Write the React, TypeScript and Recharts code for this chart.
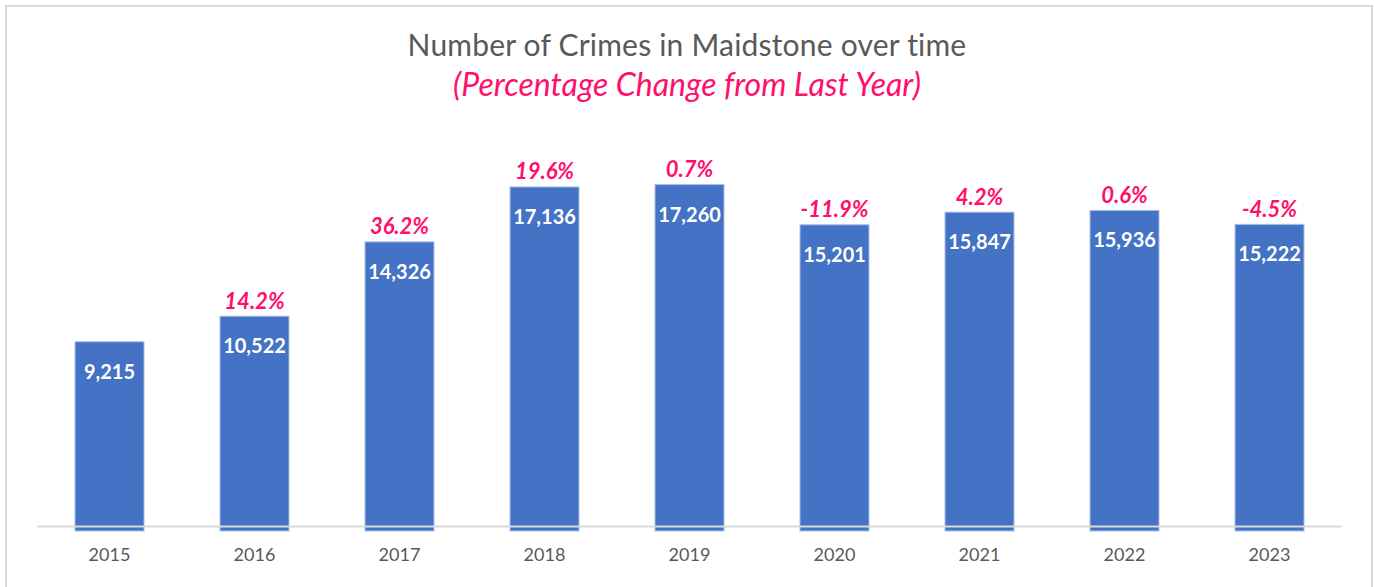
import { BarChart, Bar, XAxis, YAxis, LabelList, ReferenceLine } from 'recharts'

const years = ['2015', '2016', '2017', '2018', '2019', '2020', '2021', '2022', '2023']
const crimes = [9215, 10522, 14326, 17136, 17260, 15201, 15847, 15936, 15222]
const changes = ['', '14.2%', '36.2%', '19.6%', '0.7%', '-11.9%', '4.2%', '0.6%', '-4.5%']

const data = years.map((year, i) => ({ year, crimes: crimes[i], change: changes[i] }))

const FONT = 'Lato, "Open Sans", sans-serif'
const PINK = '#ff0f6b'
const GREY = '#595959'

// Excel draws the bars a little past the axis line, so stretch them to the plot bottom
const BarShape = (props: any) => {
  const { x, y, width, height, background } = props
  const bottom = background ? background.y + background.height : y + height
  return <rect x={x} y={y} width={width} height={bottom - y} fill="#4472c4" stroke="#a9bfe6" strokeWidth={1} />
}

const YearTick = ({ x, y, payload }: any) => (
  <text x={x} y={y} dy={30} textAnchor="middle" fill={GREY} fontSize={18} fontFamily={FONT}>
    {payload.value}
  </text>
)

const ValueLabel = (p: any) => (
  <text x={p.x + p.width / 2} y={p.y + 29} textAnchor="middle" dominantBaseline="central"
    fill="#fff" fontSize={20} fontWeight={700} fontFamily={FONT}>
    {Number(p.value).toLocaleString('en-US')}
  </text>
)

const ChangeLabel = (p: any) => {
  if (!p.value) return null
  return (
    <text x={p.x + p.width / 2} y={p.y - 16} textAnchor="middle" dominantBaseline="central"
      fill={PINK} fontSize={22} fontWeight={700} fontStyle="italic" fontFamily={FONT}>
      {p.value}
    </text>
  )
}

export default function App() {
  return (
    <div style={{ position: 'fixed', left: 0, top: 0, width: 1374, height: 587, background: '#fff', overflow: 'hidden' }}>
      <div style={{ position: 'absolute', left: 5, top: 5, width: 1368, height: 620, border: '2px solid #d9d9d9', boxSizing: 'border-box' }} />
      <div style={{ position: 'absolute', left: 0, width: 1374, top: 26, textAlign: 'center', fontFamily: FONT, fontSize: 30, color: GREY, lineHeight: '36px', letterSpacing: 0.2 }}>
        Number of Crimes in Maidstone over time
      </div>
      <div style={{ position: 'absolute', left: 0, width: 1374, top: 66, textAlign: 'center', fontFamily: FONT, fontSize: 32, color: PINK, fontStyle: 'italic', lineHeight: '36px' }}>
        (Percentage Change from Last Year)
      </div>
      <div style={{ position: 'absolute', left: 0, top: 0 }}>
        <BarChart width={1374} height={587} data={data} margin={{ top: 131, right: 32, left: 37, bottom: 26 }}>
          <XAxis dataKey="year" height={30} axisLine={false} tickLine={false} tickSize={0} tickMargin={0} tick={<YearTick />} interval={0} />
          <YAxis hide domain={[-470, 20000]} />
          <Bar dataKey="crimes" barSize={69} shape={<BarShape />} isAnimationActive={false}>
            <LabelList dataKey="crimes" content={<ValueLabel />} />
            <LabelList dataKey="change" content={<ChangeLabel />} />
          </Bar>
          <ReferenceLine y={-240} stroke="#d9d9d9" strokeWidth={2} />
        </BarChart>
      </div>
    </div>
  )
}
